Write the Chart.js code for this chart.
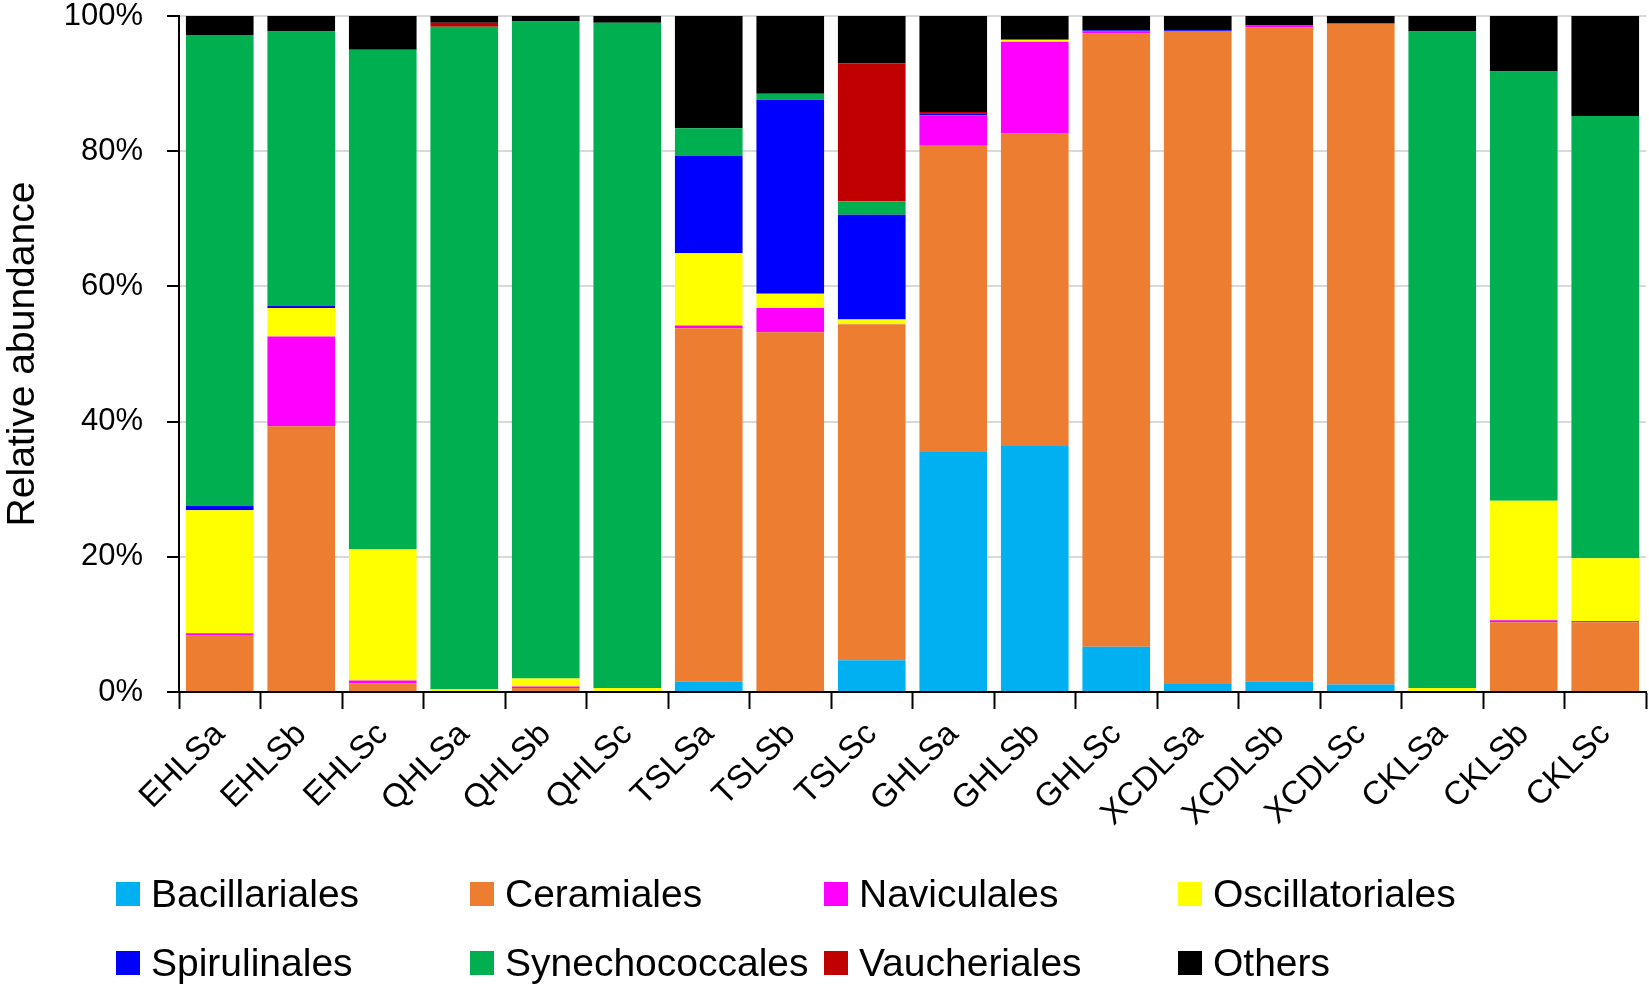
<!DOCTYPE html>
<html>
<head>
<meta charset="utf-8">
<script src="https://cdn.jsdelivr.net/npm/chart.js@4.4.1/dist/chart.umd.min.js"></script>
<style>
  html, body { margin: 0; padding: 0; background: #fff; }
  #wrap { position: relative; width: 1649px; height: 987px; }
  #c { position: absolute; left: 0; top: 0; }
  #legend { position: absolute; left: 116px; top: 870px; display: grid;
    grid-template-columns: 354px 354px 354px 354px; grid-auto-rows: 69px;
    font-family: "Liberation Sans", Arial, sans-serif; font-size: 39px; color: #000; }
  .li { display: flex; align-items: center; height: 48px; white-space: nowrap; }
  .sw { width: 24px; height: 24px; margin-right: 11px; flex: none; }
</style>
</head>
<body>
<div id="wrap">
  <canvas id="c" width="1649" height="987"></canvas>
  <div id="legend"></div>
</div>
<script>
const categories = ["EHLSa","EHLSb","EHLSc","QHLSa","QHLSb","QHLSc","TSLSa","TSLSb","TSLSc","GHLSa","GHLSb","GHLSc","XCDLSa","XCDLSb","XCDLSc","CKLSa","CKLSb","CKLSc"];
const seriesNames = ["Bacillariales","Ceramiales","Naviculales","Oscillatoriales","Spirulinales","Synechococcales","Vaucheriales","Others"];
const seriesColors = ["#00B0F0","#ED7D31","#FF00FF","#FFFF00","#0000FF","#00B050","#C00000","#000000"];
const yTickLabels = ["0%","20%","40%","60%","80%","100%"];

const bacillariales   = [0,   0,    0,    0,    0,    0,    1.5,  0,    4.7,  35.5, 36.4, 6.7,  1.2,  1.5,  1.1,  0,    0,    0];
const ceramiales      = [8.4, 39.3, 1.3,  0,    0.6,  0,    52.3, 53.2, 49.7, 45.4, 46.2, 90.7, 96.5, 96.8, 97.7, 0,    10.3, 10.3];
const naviculales     = [0.3, 13.3, 0.4,  0,    0.2,  0,    0.4,  3.6,  0,    4.4,  13.6, 0.3,  0,    0.3,  0.1,  0,    0.3,  0.2];
const oscillatoriales = [18.2, 4.2, 19.4, 0.4,  1.2,  0.6,  10.7, 2.1,  0.7,  0,    0.3,  0,    0,    0,    0,    0.6,  17.7, 9.3];
const spirulinales    = [0.6, 0.3,  0,    0,    0,    0,    14.4, 28.7, 15.5, 0.3,  0,    0.2,  0.2,  0,    0,    0,    0,    0];
const synechococcales = [69.7, 40.6, 73.9, 98.0, 97.2, 98.4, 4.1, 0.9,  2.0,  0,    0,    0,    0,    0,    0,    97.1, 63.5, 65.4];
const vaucheriales    = [0,   0,    0,    0.6,  0,    0,    0,    0,    20.4, 0.2,  0,    0,    0,    0,    0,    0,    0,    0];
const others          = [2.8, 2.3,  5.0,  1.0,  0.8,  1.0,  16.6, 11.5, 7.0,  14.2, 3.5,  2.1,  2.1,  1.4,  1.1,  2.3,  8.2,  14.8];

const seriesValues = [bacillariales, ceramiales, naviculales, oscillatoriales, spirulinales, synechococcales, vaucheriales, others];

const FONT = "'Liberation Sans', Arial, sans-serif";

const datasets = seriesNames.map((name, i) => ({
  label: name,
  data: seriesValues[i],
  backgroundColor: seriesColors[i],
  borderWidth: 0,
  barPercentage: 0.83,
  categoryPercentage: 1.0
}));

new Chart(document.getElementById('c'), {
  type: 'bar',
  data: { labels: categories, datasets },
  options: {
    responsive: false,
    animation: false,
    devicePixelRatio: 1,
    layout: { padding: { top: 16, right: 3, bottom: 145, left: 0 } },
    plugins: { legend: { display: false }, tooltip: { enabled: false } },
    scales: {
      x: {
        stacked: true,
        grid: { display: true, drawOnChartArea: false, offset: true, tickLength: 17, tickColor: '#000', tickWidth: 2 },
        border: { color: '#000', width: 2 },
        ticks: { color: '#000', font: { family: FONT, size: 33 }, minRotation: 45, maxRotation: 45, padding: 6, autoSkip: false },
        afterFit: (s) => { s.height = 150; s.paddingLeft = 0; s.paddingRight = 0; }
      },
      y: {
        stacked: true,
        min: 0, max: 100,
        afterBuildTicks: (s) => { s.ticks = yTickLabels.map(t => ({ value: parseFloat(t) })); },
        grid: { color: '#d9d9d9', lineWidth: 2, tickColor: '#000', tickLength: 12, tickWidth: 2 },
        border: { color: '#000', width: 2 },
        ticks: { color: '#000', font: { family: FONT, size: 31 }, padding: 24,
          callback: (v) => yTickLabels.find(t => parseFloat(t) === v) || '' },
        title: { display: true, text: 'Relative abundance', color: '#000', font: { family: FONT, size: 39 }, padding: { top: 0, bottom: 0 } },
        afterFit: (s) => { s.width = 179; s.paddingTop = 0; s.paddingBottom = 0; }
      }
    }
  }
});

const lg = document.getElementById('legend');
seriesNames.forEach((n, i) => {
  const d = document.createElement('div'); d.className = 'li';
  const sw = document.createElement('span'); sw.className = 'sw'; sw.style.background = seriesColors[i];
  const t = document.createElement('span'); t.textContent = n;
  d.appendChild(sw); d.appendChild(t); lg.appendChild(d);
});
</script>
</body>
</html>
